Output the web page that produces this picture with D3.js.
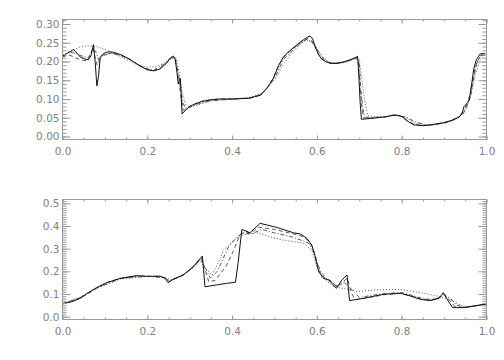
<!DOCTYPE html>
<html>
<head>
<meta charset="utf-8">
<script src="https://cdn.jsdelivr.net/npm/d3@7"></script>
<style>
  body { margin: 0; background: #fff; }
  text { font-family: "DejaVu Sans", sans-serif; }
</style>
</head>
<body>
<div id="chart-area"></div>
<script>
// tick labels
var xLabels = ["0.0", "0.2", "0.4", "0.6", "0.8", "1.0"];
var topYLabels = ["0.00", "0.05", "0.10", "0.15", "0.20", "0.25", "0.30"];
var bottomYLabels = ["0.0", "0.1", "0.2", "0.3", "0.4", "0.5"];

// upper panel
var topSolidX = [0, 0.012, 0.026, 0.042, 0.055, 0.061, 0.067, 0.073, 0.077, 0.081, 0.085, 0.089, 0.098, 0.108, 0.12, 0.14, 0.16, 0.18, 0.2, 0.215, 0.23, 0.245, 0.255, 0.262, 0.266, 0.27, 0.273, 0.276, 0.278, 0.282, 0.29, 0.30, 0.315, 0.33, 0.35, 0.37, 0.40, 0.44, 0.466, 0.482, 0.497, 0.51, 0.521, 0.535, 0.548, 0.561, 0.571, 0.578, 0.584, 0.59, 0.596, 0.603, 0.61, 0.62, 0.632, 0.645, 0.66, 0.675, 0.69, 0.696, 0.699, 0.702, 0.705, 0.726, 0.758, 0.781, 0.795, 0.805, 0.815, 0.829, 0.852, 0.875, 0.9, 0.92, 0.935, 0.942, 0.947, 0.955, 0.96, 0.965, 0.97, 0.976, 0.985, 0.993, 1.0];
var topSolidY = [0.214, 0.222, 0.232, 0.212, 0.206, 0.205, 0.215, 0.245, 0.2, 0.135, 0.16, 0.212, 0.222, 0.226, 0.225, 0.217, 0.205, 0.19, 0.178, 0.175, 0.18, 0.195, 0.21, 0.214, 0.205, 0.17, 0.14, 0.15, 0.155, 0.06, 0.07, 0.08, 0.088, 0.094, 0.098, 0.1, 0.1, 0.102, 0.11, 0.128, 0.155, 0.19, 0.212, 0.228, 0.24, 0.252, 0.26, 0.265, 0.268, 0.26, 0.24, 0.22, 0.208, 0.2, 0.195, 0.195, 0.198, 0.203, 0.21, 0.214, 0.16, 0.09, 0.046, 0.048, 0.052, 0.057, 0.056, 0.05, 0.04, 0.031, 0.029, 0.032, 0.037, 0.043, 0.052, 0.06, 0.08, 0.09, 0.1, 0.14, 0.18, 0.205, 0.22, 0.222, 0.218];

var topDashX = [0, 0.015, 0.03, 0.045, 0.06, 0.068, 0.072, 0.076, 0.082, 0.09, 0.1, 0.115, 0.14, 0.16, 0.18, 0.2, 0.215, 0.23, 0.245, 0.258, 0.265, 0.27, 0.275, 0.28, 0.285, 0.292, 0.30, 0.315, 0.33, 0.35, 0.37, 0.40, 0.44, 0.466, 0.482, 0.497, 0.51, 0.521, 0.535, 0.548, 0.561, 0.572, 0.58, 0.588, 0.596, 0.605, 0.615, 0.63, 0.645, 0.66, 0.675, 0.69, 0.697, 0.701, 0.706, 0.71, 0.73, 0.758, 0.781, 0.797, 0.81, 0.83, 0.852, 0.88, 0.9, 0.92, 0.935, 0.945, 0.955, 0.963, 0.97, 0.978, 0.988, 1.0];
var topDashY = [0.212, 0.218, 0.21, 0.204, 0.202, 0.225, 0.238, 0.215, 0.19, 0.212, 0.22, 0.222, 0.215, 0.205, 0.19, 0.179, 0.176, 0.182, 0.197, 0.21, 0.208, 0.18, 0.145, 0.1, 0.07, 0.072, 0.08, 0.088, 0.094, 0.098, 0.1, 0.1, 0.102, 0.11, 0.128, 0.155, 0.19, 0.21, 0.226, 0.238, 0.25, 0.258, 0.262, 0.255, 0.238, 0.218, 0.204, 0.196, 0.195, 0.198, 0.203, 0.21, 0.208, 0.15, 0.08, 0.05, 0.049, 0.052, 0.057, 0.054, 0.044, 0.032, 0.029, 0.032, 0.037, 0.044, 0.052, 0.06, 0.085, 0.11, 0.16, 0.2, 0.218, 0.218];

var topDashDotX = [0, 0.015, 0.03, 0.045, 0.06, 0.07, 0.078, 0.085, 0.095, 0.11, 0.13, 0.16, 0.19, 0.215, 0.24, 0.258, 0.266, 0.272, 0.278, 0.284, 0.29, 0.3, 0.32, 0.35, 0.4, 0.44, 0.47, 0.5, 0.521, 0.548, 0.565, 0.578, 0.59, 0.6, 0.615, 0.63, 0.65, 0.675, 0.695, 0.7, 0.704, 0.71, 0.72, 0.76, 0.785, 0.81, 0.83, 0.86, 0.9, 0.935, 0.947, 0.957, 0.966, 0.975, 0.985, 1.0];
var topDashDotY = [0.215, 0.225, 0.222, 0.215, 0.21, 0.225, 0.228, 0.205, 0.215, 0.222, 0.22, 0.205, 0.183, 0.177, 0.193, 0.212, 0.21, 0.175, 0.13, 0.09, 0.075, 0.078, 0.087, 0.095, 0.1, 0.102, 0.112, 0.155, 0.205, 0.235, 0.252, 0.26, 0.25, 0.232, 0.208, 0.197, 0.195, 0.203, 0.21, 0.195, 0.12, 0.06, 0.05, 0.052, 0.057, 0.052, 0.04, 0.03, 0.035, 0.052, 0.07, 0.095, 0.14, 0.19, 0.215, 0.219];

var topDotX = [0, 0.02, 0.04, 0.06, 0.08, 0.1, 0.12, 0.14, 0.16, 0.18, 0.2, 0.22, 0.24, 0.26, 0.268, 0.275, 0.282, 0.29, 0.3, 0.32, 0.35, 0.4, 0.44, 0.47, 0.5, 0.52, 0.54, 0.56, 0.575, 0.59, 0.6, 0.615, 0.63, 0.65, 0.67, 0.69, 0.7, 0.705, 0.712, 0.72, 0.76, 0.785, 0.81, 0.83, 0.86, 0.9, 0.93, 0.945, 0.955, 0.965, 0.975, 0.985, 1.0];
var topDotY = [0.218, 0.228, 0.238, 0.242, 0.24, 0.232, 0.222, 0.212, 0.2, 0.19, 0.185, 0.186, 0.196, 0.215, 0.21, 0.17, 0.12, 0.085, 0.078, 0.085, 0.095, 0.1, 0.104, 0.115, 0.15, 0.19, 0.222, 0.245, 0.258, 0.25, 0.235, 0.21, 0.198, 0.195, 0.198, 0.206, 0.205, 0.16, 0.1, 0.055, 0.052, 0.058, 0.05, 0.036, 0.031, 0.037, 0.05, 0.062, 0.08, 0.12, 0.17, 0.205, 0.22];

// lower panel
var botSolidX = [0, 0.022, 0.042, 0.06, 0.08, 0.104, 0.136, 0.175, 0.2, 0.23, 0.242, 0.249, 0.261, 0.285, 0.308, 0.33, 0.336, 0.363, 0.387, 0.408, 0.414, 0.423, 0.442, 0.466, 0.505, 0.545, 0.561, 0.576, 0.588, 0.596, 0.604, 0.616, 0.628, 0.646, 0.659, 0.671, 0.677, 0.71, 0.758, 0.797, 0.821, 0.845, 0.868, 0.888, 0.898, 0.908, 0.92, 0.947, 0.975, 1.0];
var botSolidY = [0.056, 0.066, 0.081, 0.105, 0.128, 0.15, 0.169, 0.181, 0.178, 0.179, 0.17, 0.15, 0.165, 0.184, 0.221, 0.268, 0.132, 0.14, 0.147, 0.152, 0.235, 0.385, 0.37, 0.412, 0.394, 0.37, 0.365, 0.346, 0.316, 0.265, 0.199, 0.169, 0.162, 0.125, 0.162, 0.184, 0.071, 0.081, 0.099, 0.103, 0.091, 0.076, 0.071, 0.081, 0.106, 0.074, 0.04, 0.04, 0.048, 0.056];

var botDashX = [0, 0.04, 0.06, 0.08, 0.104, 0.136, 0.175, 0.2, 0.23, 0.243, 0.252, 0.265, 0.285, 0.308, 0.328, 0.345, 0.36, 0.385, 0.404, 0.418, 0.43, 0.445, 0.462, 0.5, 0.545, 0.565, 0.58, 0.59, 0.598, 0.606, 0.618, 0.632, 0.648, 0.662, 0.672, 0.68, 0.69, 0.71, 0.758, 0.797, 0.821, 0.845, 0.868, 0.89, 0.9, 0.912, 0.925, 0.947, 0.975, 1.0];
var botDashY = [0.057, 0.082, 0.1, 0.126, 0.15, 0.169, 0.18, 0.178, 0.177, 0.168, 0.155, 0.167, 0.184, 0.218, 0.258, 0.154, 0.16, 0.22, 0.294, 0.36, 0.375, 0.37, 0.395, 0.385, 0.365, 0.355, 0.335, 0.305, 0.255, 0.2, 0.17, 0.16, 0.13, 0.155, 0.17, 0.11, 0.075, 0.08, 0.097, 0.103, 0.092, 0.078, 0.073, 0.085, 0.1, 0.075, 0.045, 0.04, 0.048, 0.056];

var botDashDotX = [0, 0.04, 0.08, 0.136, 0.2, 0.24, 0.252, 0.265, 0.29, 0.31, 0.326, 0.349, 0.365, 0.392, 0.41, 0.425, 0.445, 0.47, 0.5, 0.545, 0.58, 0.592, 0.6, 0.61, 0.625, 0.648, 0.665, 0.685, 0.7, 0.75, 0.8, 0.845, 0.87, 0.892, 0.9, 0.915, 0.93, 0.95, 1.0];
var botDashDotY = [0.057, 0.082, 0.126, 0.168, 0.178, 0.172, 0.158, 0.168, 0.19, 0.222, 0.255, 0.17, 0.2, 0.31, 0.35, 0.37, 0.365, 0.385, 0.37, 0.35, 0.325, 0.29, 0.24, 0.195, 0.165, 0.135, 0.15, 0.115, 0.085, 0.1, 0.107, 0.083, 0.075, 0.085, 0.098, 0.08, 0.05, 0.042, 0.056];

var botDotX = [0, 0.04, 0.08, 0.136, 0.2, 0.24, 0.255, 0.27, 0.29, 0.31, 0.325, 0.338, 0.353, 0.368, 0.38, 0.4, 0.42, 0.44, 0.46, 0.49, 0.521, 0.568, 0.588, 0.6, 0.612, 0.64, 0.675, 0.695, 0.734, 0.797, 0.852, 0.892, 0.916, 0.939, 0.955, 1.0];
var botDotY = [0.058, 0.085, 0.124, 0.166, 0.178, 0.174, 0.163, 0.17, 0.19, 0.218, 0.245, 0.21, 0.184, 0.24, 0.294, 0.33, 0.36, 0.365, 0.37, 0.352, 0.338, 0.324, 0.294, 0.22, 0.174, 0.132, 0.12, 0.11, 0.118, 0.12, 0.103, 0.088, 0.074, 0.051, 0.044, 0.056];

var width = 424, height = 120;

var svg = d3.select("#chart-area")
    .append("svg")
        .attr("width", 504)
        .attr("height", 360);

function pairs(xs, ys) {
    return xs.map(function(d, i){ return [d, ys[i]]; });
}

function drawPanel(top, yDomain, yMajor, yMinor, yLabels, series) {
    var g = svg.append("g")
        .attr("transform", "translate(62.5," + top + ")");

    var x = d3.scaleLinear().domain([0, 1]).range([0, width]);
    var y = d3.scaleLinear().domain(yDomain).range([height, 0]);

    // lines
    var line = d3.line()
        .x(function(d){ return x(d[0]); })
        .y(function(d){ return y(d[1]); });

    series.forEach(function(s){
        g.append("path")
            .datum(pairs(s.x, s.y))
            .attr("fill", "none")
            .attr("stroke", s.color)
            .attr("stroke-width", 1)
            .attr("stroke-dasharray", s.dash)
            .attr("d", line);
    });

    // minor ticks
    var xMinor = d3.range(0, 1.0001, 0.05);
    g.append("g").attr("transform", "translate(0," + height + ")")
        .call(d3.axisBottom(x).tickValues(xMinor).tickSize(-2).tickFormat(""));
    g.append("g")
        .call(d3.axisTop(x).tickValues(xMinor).tickSize(-2).tickFormat(""));
    g.append("g")
        .call(d3.axisLeft(y).tickValues(yMinor).tickSize(-4).tickFormat(""));
    g.append("g").attr("transform", "translate(" + width + ",0)")
        .call(d3.axisRight(y).tickValues(yMinor).tickSize(-4).tickFormat(""));

    // major ticks + labels
    var xMajor = d3.range(0, 1.0001, 0.2);
    g.append("g").attr("class", "x-axis")
        .attr("transform", "translate(0," + height + ")")
        .call(d3.axisBottom(x).tickValues(xMajor).tickSize(-4).tickPadding(8)
            .tickFormat(function(d, i){ return xLabels[i]; }));
    g.append("g")
        .call(d3.axisTop(x).tickValues(xMajor).tickSize(-4).tickFormat(""));
    g.append("g").attr("class", "y-axis")
        .call(d3.axisLeft(y).tickValues(yMajor).tickSize(-8).tickPadding(3)
            .tickFormat(function(d, i){ return yLabels[i]; }));
    g.append("g").attr("transform", "translate(" + width + ",0)")
        .call(d3.axisRight(y).tickValues(yMajor).tickSize(-8).tickFormat(""));

    g.selectAll(".domain").remove();
    g.selectAll(".tick line").attr("stroke", "#999");
    g.selectAll(".tick text")
        .attr("fill", "#808080")
        .attr("font-size", "10.5px")
        .attr("font-family", "DejaVu Sans, sans-serif");

    // frame
    g.append("rect")
        .attr("x", 0)
        .attr("y", 0)
        .attr("width", width)
        .attr("height", height)
        .attr("fill", "none")
        .attr("stroke", "#999");
}

drawPanel(19.5, [-0.008, 0.312],
    d3.range(0, 0.3001, 0.05), d3.range(0, 0.3101, 0.01), topYLabels,
    [
        {x: topDotX, y: topDotY, dash: "1,2", color: "#555"},
        {x: topDashDotX, y: topDashDotY, dash: "4,2,1,2", color: "#555"},
        {x: topDashX, y: topDashY, dash: "4,3", color: "#555"},
        {x: topSolidX, y: topSolidY, dash: null, color: "#111"}
    ]);

drawPanel(199.5, [-0.0124, 0.517],
    d3.range(0, 0.5001, 0.1), d3.range(0, 0.5101, 0.01), bottomYLabels,
    [
        {x: botDotX, y: botDotY, dash: "1,2", color: "#555"},
        {x: botDashDotX, y: botDashDotY, dash: "4,2,1,2", color: "#555"},
        {x: botDashX, y: botDashY, dash: "4,3", color: "#555"},
        {x: botSolidX, y: botSolidY, dash: null, color: "#111"}
    ]);
</script>
</body>
</html>
